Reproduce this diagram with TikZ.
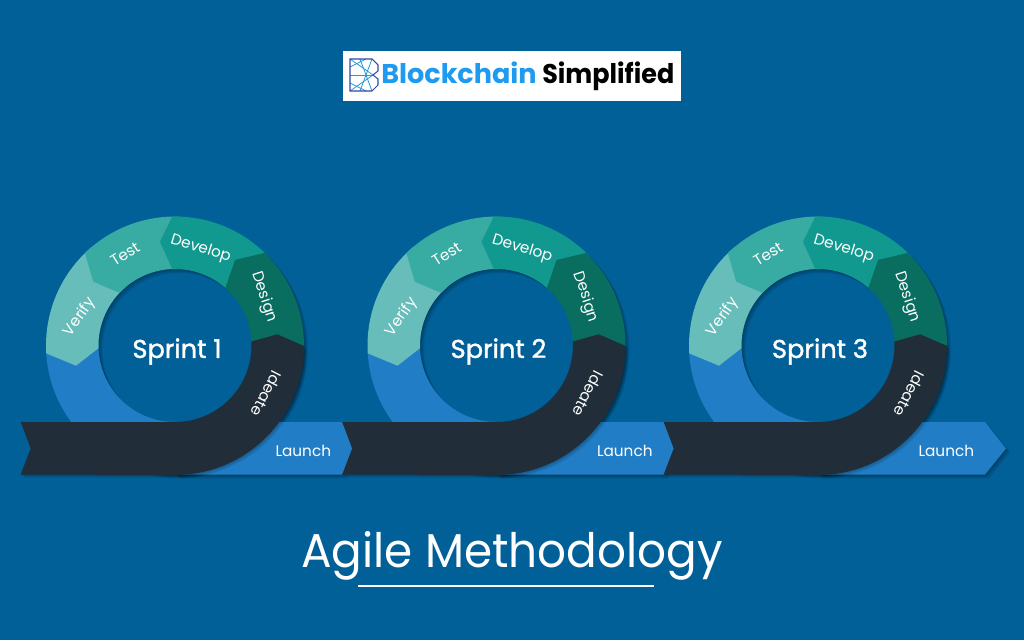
\documentclass[tikz,border=0pt]{standalone}
\usepackage{fontspec}
\setmainfont{Poppins}
\newfontfamily\sprintfont[FakeBold=1.5]{Poppins}
\definecolor{bgblue}{RGB}{1,96,152}
\definecolor{launchblue}{RGB}{33,126,198}
\definecolor{verifyteal}{RGB}{102,189,185}
\definecolor{testteal}{RGB}{56,171,162}
\definecolor{developteal}{RGB}{18,153,143}
\definecolor{designgreen}{RGB}{9,110,96}
\definecolor{ideatedark}{RGB}{33,45,56}
\definecolor{logoblue}{RGB}{30,155,240}
\definecolor{logonavy}{RGB}{45,75,170}
\definecolor{logosky}{RGB}{40,150,215}
\def\darkpath{(-154.3, -76.5) -- (0, -76.5) arc[start angle=-90, end angle=3, radius=76.5] -- (102.3, 11.2) -- (129, -0.5) arc[start angle=0, end angle=-90, radius=129] -- (-154.3, -129) -- (-144.3, -103) -- cycle}
\tikzset{
        steplabel/.style={text=white, font=\fontsize{8.7}{10}\selectfont},
        sprintlabel/.style={text=white, font=\sprintfont\fontsize{14.6}{16}\selectfont},
        shadowfill/.style={black, opacity=0.08},
        logoline/.style={logosky, line width=0.45pt},
        logoedge/.style={logonavy, line width=0.6pt}
}
\begin{document}
\begin{tikzpicture}[x=0.02cm, y=0.02cm]
        \fill[bgblue] (0, 0) rectangle (1024, 640);
        \useasboundingbox (0, 0) rectangle (1024, 640);
        % logo
        \fill[white] (343, 539) rectangle (680.5, 589);
        \node[anchor=base west, inner sep=0pt, text=logoblue, font=\fontsize{15.4}{18}\bfseries] (logoleft) at (381, 556) {Blockchain};
        \node[anchor=base west, inner sep=0pt, xscale=0.94, text=black, font=\fontsize{15.4}{18}\bfseries] (logoright) at (542, 556) {Simplified};
        \draw[logoline] (350, 581) -- (373, 565) -- (350, 549);
        \draw[logoline] (350, 565) -- (373, 565);
        \draw[logoline] (350, 573) -- (366, 581) (350, 557) -- (366, 549);
        \draw[logoline] (360, 581) -- (366, 565) -- (360, 549);
        \draw[logoline] (372, 581) -- (366, 565) -- (372, 549);
        \draw[logoedge] (350, 581) -- (372, 581) -- (378, 575) -- (378, 569) -- (373, 565) -- (378, 561) -- (378, 555) -- (372, 549) -- (350, 549) -- cycle;
        % sprints
        \foreach \n/\cx in {1/175, 2/496.5, 3/818} {
                \begin{scope}[shift={(\cx, 294.5)}]
                        \foreach \d in {1, 2, 3, 4} {
                                \fill[shadowfill, even odd rule] (\d, -\d) circle (129) (\d, -\d) circle (76.5);
                                \fill[shadowfill] (\d, -76.5-\d) -- (167+\d, -76.5-\d) -- (188+\d, -103-\d) -- (167+\d, -129-\d) -- (\d, -129-\d) -- cycle;
                        }
                        \fill[launchblue] (183.5:129) arc[start angle=183.5, end angle=270, radius=129] -- (0, -76.5) arc[start angle=270, end angle=182, radius=76.5] -- cycle;
                        \fill[launchblue] (0, -76.5) -- (167, -76.5) -- (188, -103) -- (167, -129) -- (0, -129) -- cycle;
                        \foreach \col/\a/\tx/\ty/\ia/\b in {verifyteal/183.5/-99/-20.2/182/130, testteal/134.3/-81.7/63.8/136.5/88, developteal/91.2/-15/103.8/92/44, designgreen/45.9/60/85.5/48.8/0} {
                                \fill[\col] (\b:129) arc[start angle=\b, end angle=\a, radius=129] -- (\tx, \ty) -- (\ia:76.5) arc[start angle=\ia, end angle=\b, radius=76.5] -- cycle;
                        }
                        \foreach \d in {1, 2, 3} {
                                \fill[shadowfill, shift={(\d, -\d)}] \darkpath;
                        }
                        \fill[ideatedark] \darkpath;
                        \node[steplabel, rotate=55] (verify\n) at (-95, 28.2) {Verify};
                        \node[steplabel, rotate=32] (test\n) at (-50, 91.5) {Test};
                        \node[steplabel, rotate=-17] (develop\n) at (25.7, 96.5) {Develop};
                        \node[steplabel, rotate=-72] (design\n) at (89, 48.2) {Design};
                        \node[steplabel, rotate=-117] (ideate\n) at (91.7, -48.5) {Ideate};
                        \node[steplabel] (launch\n) at (128.3, -105.2) {Launch};
                        \node[sprintlabel] (sprint\n) at (2, -6) {Sprint \n};
                \end{scope}
        }
        % title
        \node[anchor=base, xscale=0.955, text=white, font=\fontsize{27}{30}\selectfont] (title) at (512, 72.3) {Agile Methodology};
        \fill[white] (358, 53) rectangle (654, 55);
\end{tikzpicture}
\end{document}
